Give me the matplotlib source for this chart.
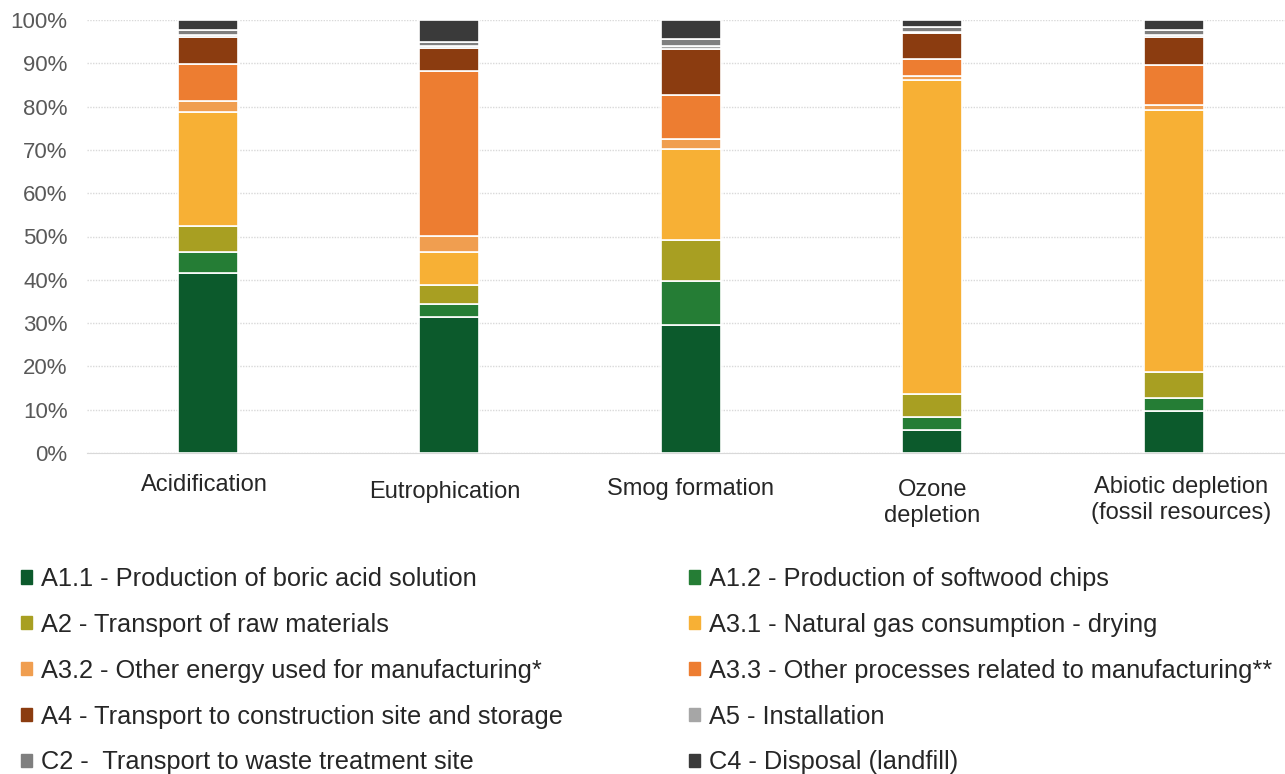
import matplotlib
matplotlib.use("Agg")
import matplotlib.pyplot as plt
import numpy as np
from matplotlib.patches import Patch
from matplotlib.transforms import blended_transform_factory

plt.rcParams['font.family'] = ['Liberation Sans', 'DejaVu Sans']

categories = ["Acidification", "Eutrophication", "Smog formation", "Ozone\ndepletion",
              "Abiotic depletion\n(fossil resources)"]
series_names = [
    "A1.1 - Production of boric acid solution",
    "A1.2 - Production of softwood chips",
    "A2 - Transport of raw materials",
    "A3.1 - Natural gas consumption - drying",
    "A3.2 - Other energy used for manufacturing*",
    "A3.3 - Other processes related to manufacturing**",
    "A4 - Transport to construction site and storage",
    "A5 - Installation",
    "C2 -  Transport to waste treatment site",
    "C4 - Disposal (landfill)",
]
colors = ["#0c5a2c", "#257d35", "#a89f22", "#f7b035", "#f09e50",
          "#ed7d31", "#8b3c10", "#a6a6a6", "#7f7f7f", "#3a3a3a"]

a1_1 = [41.6, 31.5, 29.6, 5.4, 9.7]
a1_2 = [4.8, 2.9, 10.1, 2.8, 2.9]
a2 = [6.0, 4.4, 9.5, 5.5, 6.2]
a3_1 = [26.4, 7.6, 20.9, 72.4, 60.4]
a3_2 = [2.4, 3.7, 2.4, 1.0, 1.2]
a3_3 = [8.6, 38.1, 10.2, 3.8, 9.3]
a4 = [6.3, 5.3, 10.5, 6.0, 6.4]
a5 = [0.5, 0.5, 0.7, 0.3, 0.4]
c2 = [1.1, 0.9, 1.8, 1.2, 1.2]
c4 = [2.3, 5.1, 4.3, 1.7, 2.3]
series = [a1_1, a1_2, a2, a3_1, a3_2, a3_3, a4, a5, c2, c4]

fig = plt.figure(figsize=(12.85, 7.74), dpi=100)
W, H = 1285, 774
left, right, top, bottom = 87, 1285, 20, 453
ax = fig.add_axes([left / W, 1 - bottom / H, (right - left) / W, (bottom - top) / H])

x = np.arange(len(categories))
base = np.zeros(len(categories))
handles = []
for vals, name, col in zip(series, series_names, colors):
    v = np.array(vals)
    ax.bar(x, v, bottom=base, width=0.248, color=col, edgecolor="white", linewidth=1.2, zorder=3)
    base += v
    handles.append(Patch(facecolor=col, edgecolor=col, label=name))

ax.set_ylim(0, 100)
ax.set_xlim(-0.5, -0.5 + (right - left) / 241.5)
ax.set_yticks(np.arange(0, 101, 10))
ax.set_yticklabels([f"{t}%" for t in range(0, 101, 10)])
ax.set_xticks(x)
ax.set_xticklabels([""] * len(categories))
ax.tick_params(axis='y', length=0, pad=14, labelsize=16, labelcolor="#595959")
ax.tick_params(axis='x', length=0)
ax.yaxis.grid(True, color="#d9d9d9", linewidth=1.0, linestyle=(0, (1, 1)), zorder=0)
for s in ["top", "right", "left"]:
    ax.spines[s].set_visible(False)
ax.spines["bottom"].set_color("#d9d9d9")

# category labels (slightly individual vertical placement as in the reference)
label_y_px = [485, 492, 489, 503, 500]
label_dx = [-0.015, -0.02, 0.0, 0.0, 0.03]
trans = blended_transform_factory(ax.transData, fig.transFigure)
for xi, lab, ypx, dx in zip(x, categories, label_y_px, label_dx):
    ax.text(xi + dx, 1 - ypx / H, lab, transform=trans, ha="center", va="center",
            fontsize=17, color="#262626", linespacing=1.2)

col1 = [handles[i] for i in (0, 2, 4, 6, 8)]
col2 = [handles[i] for i in (1, 3, 5, 7, 9)]
common = dict(frameon=False, fontsize=18.3, handlelength=0.42, handleheight=0.42,
              handletextpad=0.35, labelspacing=0.86, borderpad=0, borderaxespad=0,
              labelcolor="#262626")
leg1 = fig.legend(handles=col1, loc="upper left", bbox_to_anchor=(21 / W, 1 - 567 / H), **common)
leg2 = fig.legend(handles=col2, loc="upper left", bbox_to_anchor=(689 / W, 1 - 567 / H), **common)

fig.savefig("out.png", dpi=100)
